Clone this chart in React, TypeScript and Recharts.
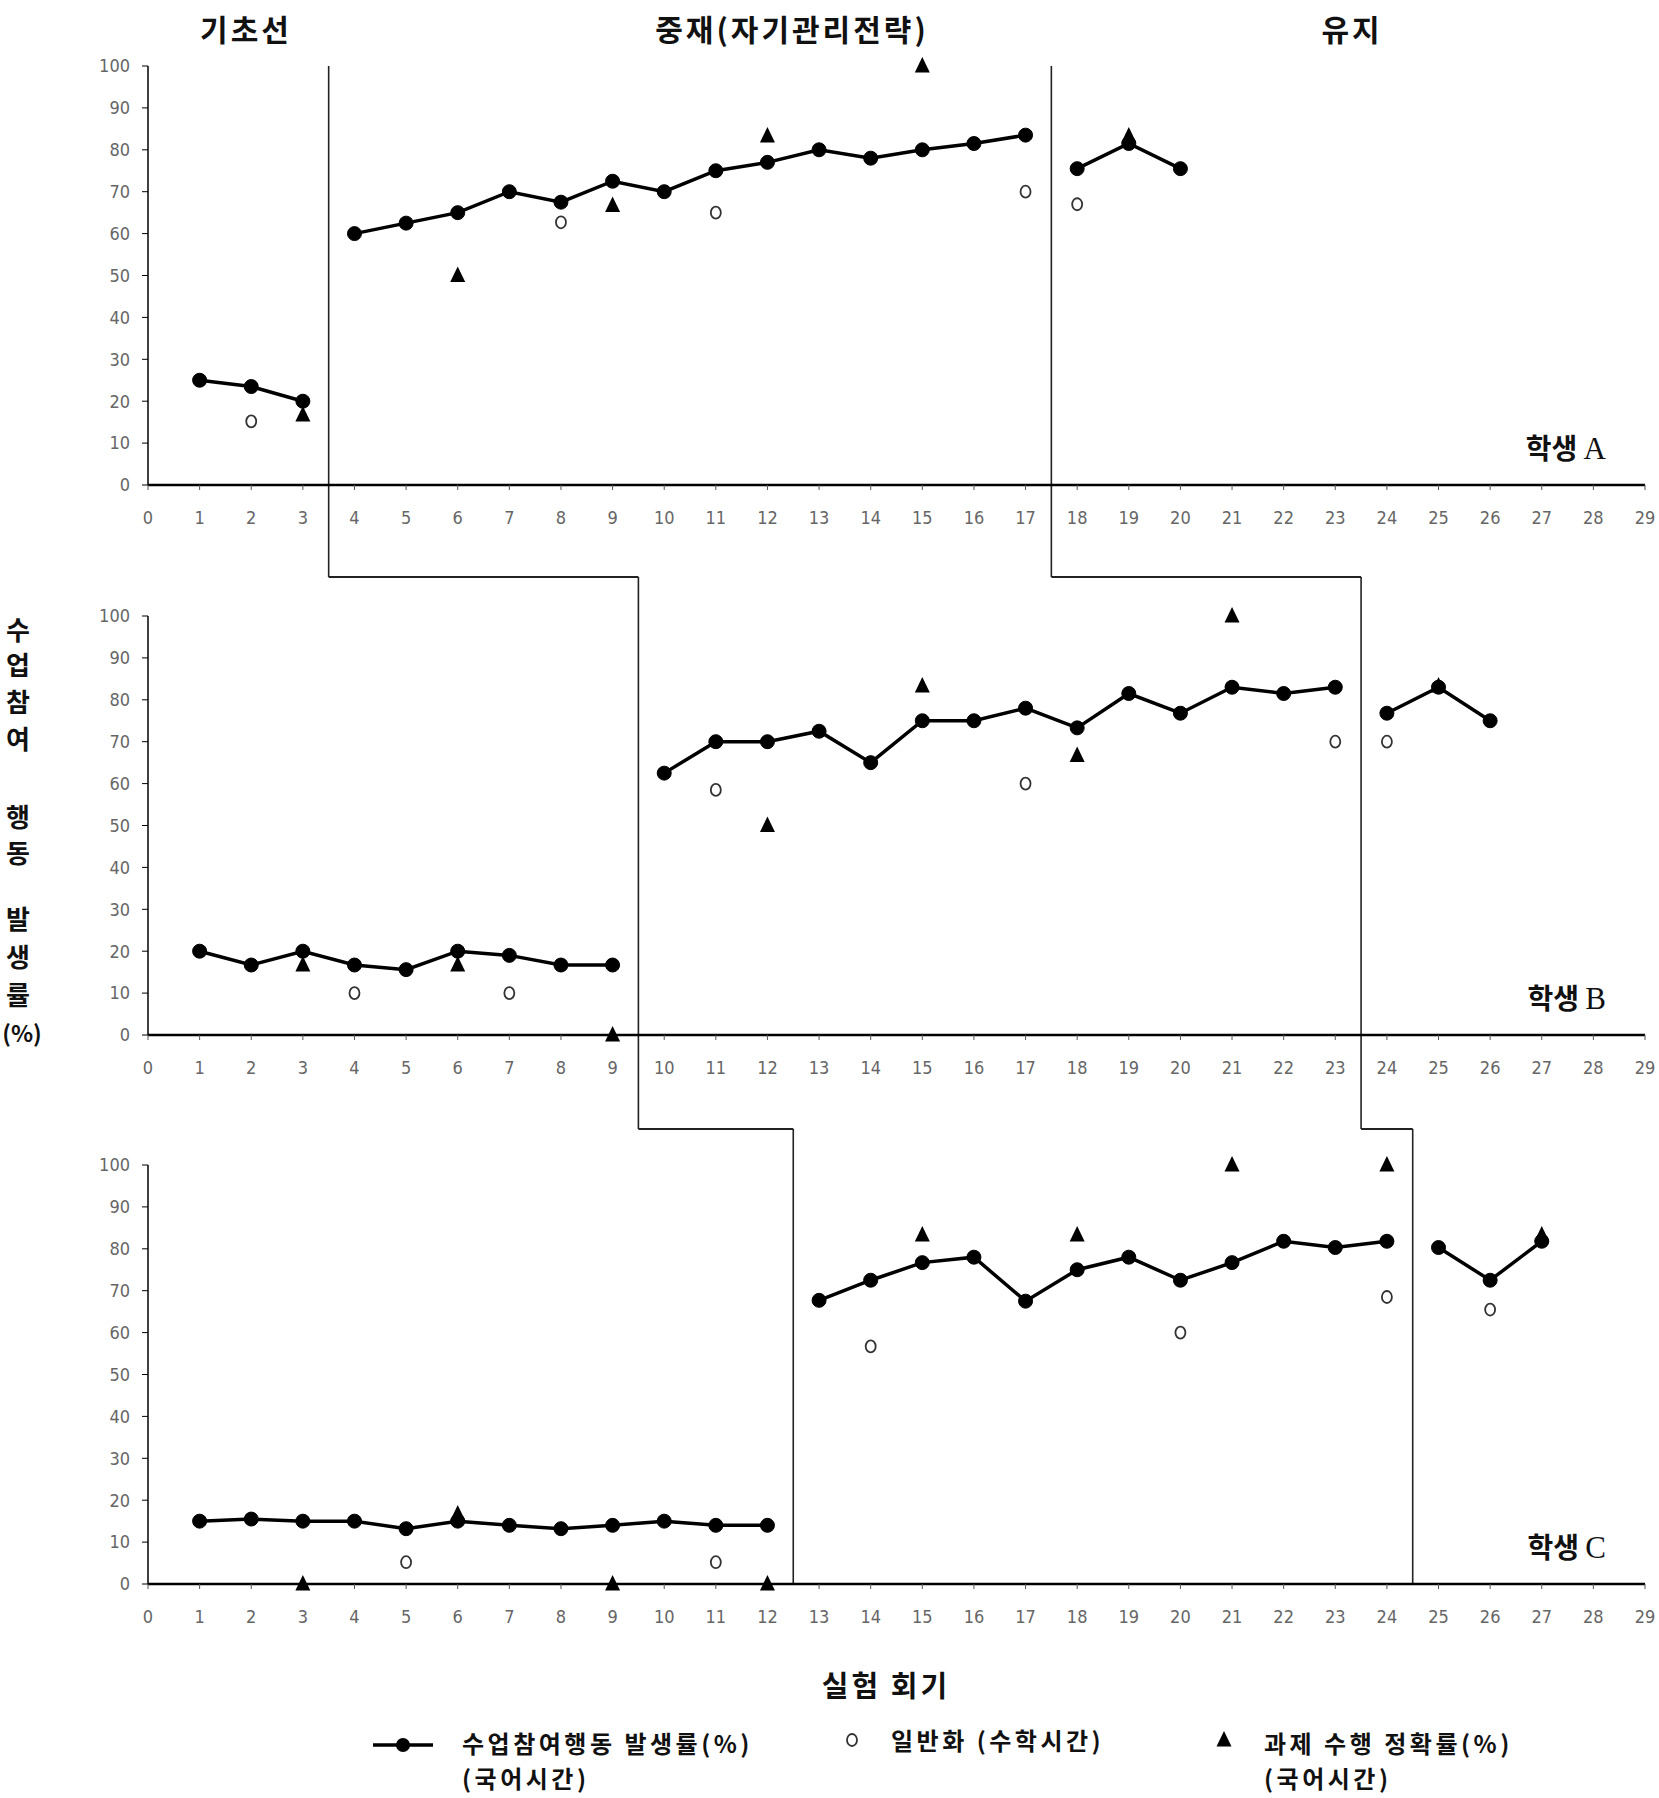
import React from 'react';
import { ComposedChart, Line, Scatter, XAxis, YAxis, ReferenceLine } from 'recharts';

type Pt = [number, number];

// 회기(x) 눈금과 백분율(y) 눈금
const sessionTicks = [0, 1, 2, 3, 4, 5, 6, 7, 8, 9, 10, 11, 12, 13, 14, 15, 16, 17, 18, 19, 20, 21, 22, 23, 24, 25, 26, 27, 28, 29];
const percentTicks = [0, 10, 20, 30, 40, 50, 60, 70, 80, 90, 100];

const phaseTitles = ['기초선', '중재(자기관리전략)', '유지'];
const studentNames = ['A', 'B', 'C'];

// 학생 A  [회기, 값]
const aBaseline: Pt[] = [[1, 25], [2, 23.5], [3, 20]];
const aIntervention: Pt[] = [[4, 60], [5, 62.5], [6, 65], [7, 70], [8, 67.5], [9, 72.5], [10, 70], [11, 75], [12, 77], [13, 80], [14, 78], [15, 80], [16, 81.5], [17, 83.5]];
const aMaintenance: Pt[] = [[18, 75.5], [19, 81.5], [20, 75.5]];
const aGeneral: Pt[] = [[2, 15.2], [8, 62.7], [11, 65], [17, 70], [18, 67]];
const aTask: Pt[] = [[3, 16.7], [6, 50], [9, 66.7], [12, 83.3], [15, 100], [19, 83.3]];
const aBreaks = [3.5, 17.5];

// 학생 B
const bBaseline: Pt[] = [[1, 20], [2, 16.7], [3, 20], [4, 16.7], [5, 15.6], [6, 20], [7, 19], [8, 16.7], [9, 16.7]];
const bIntervention: Pt[] = [[10, 62.5], [11, 70], [12, 70], [13, 72.5], [14, 65], [15, 75], [16, 75], [17, 78], [18, 73.3], [19, 81.5], [20, 76.8], [21, 83], [22, 81.5], [23, 83]];
const bMaintenance: Pt[] = [[24, 76.8], [25, 83], [26, 75]];
const bGeneral: Pt[] = [[4, 10], [7, 10], [11, 58.5], [17, 60], [23, 70], [24, 70]];
const bTask: Pt[] = [[3, 16.7], [6, 16.7], [9, 0], [12, 50], [15, 83.3], [18, 66.7], [21, 100], [25, 83.3]];
const bBreaks = [9.5, 23.5];

// 학생 C
const cBaseline: Pt[] = [[1, 15], [2, 15.5], [3, 15], [4, 15], [5, 13.2], [6, 15], [7, 14], [8, 13.2], [9, 14], [10, 15], [11, 14], [12, 14]];
const cIntervention: Pt[] = [[13, 67.7], [14, 72.5], [15, 76.7], [16, 78], [17, 67.5], [18, 75], [19, 78], [20, 72.5], [21, 76.7], [22, 81.8], [23, 80.3], [24, 81.8]];
const cMaintenance: Pt[] = [[25, 80.3], [26, 72.5], [27, 81.8]];
const cGeneral: Pt[] = [[5, 5.2], [11, 5.2], [14, 56.7], [20, 60], [24, 68.5], [26, 65.5]];
const cTask: Pt[] = [[3, 0], [6, 16.7], [9, 0], [12, 0], [15, 83.3], [18, 83.3], [21, 100], [24, 100], [27, 83.3]];
const cBreaks = [12.5, 24.5];

// 레이아웃
const W = 1659;
const PLOT_LEFT = 148;
const PLOT_RIGHT = 1645;
const PLOT_H = 419;
const Y_AXIS_W = 60;
const PAD_TOP = 60;
const X_AXIS_H = 44;
const PAD_BOTTOM = 76;
const CHART_H = PAD_TOP + PLOT_H + X_AXIS_H + PAD_BOTTOM;
const panelTops = [66, 616, 1165];
const stepYs = [577, 1129];

const KFONT = "'Noto Sans CJK KR', 'Noto Sans', sans-serif";
const TICK_FONT = "'Liberation Sans Narrow', 'DejaVu Sans Condensed', 'Noto Sans', sans-serif";

const toRows = (pts: Pt[]) => pts.map(([x, y]) => ({ x, y }));

const OpenCircle = (props: any) => (
  <ellipse cx={props.cx} cy={props.cy} rx={5} ry={6} fill="#fff" stroke="#333" strokeWidth={1.8} />
);

const Triangle = (props: any) => {
  const { cx, cy } = props;
  return <polygon points={`${cx},${cy - 9} ${cx - 7.5},${cy + 6.5} ${cx + 7.5},${cy + 6.5}`} fill="#000" />;
};

interface PanelProps {
  plotTop: number;
  segments: Pt[][];
  general: Pt[];
  task: Pt[];
  breaks: number[];
  nextBreaks?: number[];
  stepAbove?: number;
  stepBelow?: number;
}

function Panel({ plotTop, segments, general, task, breaks, nextBreaks, stepAbove, stepBelow }: PanelProps) {
  // 페이지 y 좌표를 이 패널의 값 단위로 바꿈 (단계선 연결용)
  const toVal = (pageY: number) => 100 - ((pageY - plotTop) * 100) / PLOT_H;
  const yStart = stepAbove == null ? 100 : toVal(stepAbove);
  const yEnd = stepBelow == null ? 0 : toVal(stepBelow);

  return (
    <div style={{ position: 'absolute', left: 0, top: plotTop - PAD_TOP }}>
      <ComposedChart
        width={W}
        height={CHART_H}
        margin={{ top: PAD_TOP, right: W - PLOT_RIGHT, bottom: PAD_BOTTOM, left: PLOT_LEFT - Y_AXIS_W }}
      >
        <XAxis
          type="number"
          dataKey="x"
          domain={[0, 29]}
          ticks={sessionTicks}
          interval={0}
          height={X_AXIS_H}
          axisLine={{ stroke: '#000', strokeWidth: 2.5 }}
          tickLine={{ stroke: '#555' }}
          tickSize={5}
          tickMargin={21}
          tick={{ fill: '#666', fontSize: 18, fontFamily: TICK_FONT }}
        />
        <YAxis
          type="number"
          dataKey="y"
          domain={[0, 100]}
          ticks={percentTicks}
          interval={0}
          width={Y_AXIS_W}
          axisLine={{ stroke: '#000', strokeWidth: 1.5 }}
          tickLine={{ stroke: '#000' }}
          tickSize={6}
          tickMargin={12}
          tick={{ fill: '#666', fontSize: 18, fontFamily: TICK_FONT }}
        />
        {breaks.map((b, i) => (
          <ReferenceLine
            key={'v' + i}
            segment={[{ x: b, y: yStart }, { x: b, y: yEnd }]}
            ifOverflow="visible"
            stroke="#222"
            strokeWidth={1.6}
          />
        ))}
        {nextBreaks &&
          breaks.map((b, i) => (
            <ReferenceLine
              key={'h' + i}
              segment={[{ x: b, y: yEnd }, { x: nextBreaks[i], y: yEnd }]}
              ifOverflow="visible"
              stroke="#222"
              strokeWidth={2}
            />
          ))}
        {segments.map((seg, i) => (
          <Line
            key={'l' + i}
            data={toRows(seg)}
            dataKey="y"
            type="linear"
            stroke="#000"
            strokeWidth={3.5}
            dot={{ r: 7, fill: '#000', stroke: '#000', strokeWidth: 1 }}
            activeDot={false}
            isAnimationActive={false}
          />
        ))}
        <Scatter data={toRows(general)} dataKey="y" shape={OpenCircle} isAnimationActive={false} />
        <Scatter data={toRows(task)} dataKey="y" shape={Triangle} isAnimationActive={false} />
      </ComposedChart>
    </div>
  );
}

const ylabelChars: [string, number][] = [
  ['수', 628], ['업', 663], ['참', 700], ['여', 737],
  ['행', 815], ['동', 851],
  ['발', 917], ['생', 955], ['률', 993], ['(%)', 1032],
];

const legendText: React.CSSProperties = {
  position: 'absolute', fontFamily: KFONT, fontWeight: 700, fontSize: 24, lineHeight: '24px',
  letterSpacing: 3.5, color: '#111', whiteSpace: 'nowrap',
};

export default function App() {
  const titleStyle: React.CSSProperties = {
    position: 'absolute', top: 6, fontFamily: KFONT, fontWeight: 700, fontSize: 30, letterSpacing: 3,
    transform: 'translateX(-50%)', whiteSpace: 'nowrap', color: '#111',
  };
  const panels = [
    { segments: [aBaseline, aIntervention, aMaintenance], general: aGeneral, task: aTask, breaks: aBreaks },
    { segments: [bBaseline, bIntervention, bMaintenance], general: bGeneral, task: bTask, breaks: bBreaks },
    { segments: [cBaseline, cIntervention, cMaintenance], general: cGeneral, task: cTask, breaks: cBreaks },
  ];

  return (
    <div style={{ position: 'absolute', left: 0, top: 0, width: W, height: 1798, background: '#fff', overflow: 'hidden' }}>
      <div style={{ ...titleStyle, left: 246 }}>{phaseTitles[0]}</div>
      <div style={{ ...titleStyle, left: 792 }}>{phaseTitles[1]}</div>
      <div style={{ ...titleStyle, left: 1352 }}>{phaseTitles[2]}</div>

      {panels.map((p, i) => (
        <Panel
          key={i}
          plotTop={panelTops[i]}
          segments={p.segments}
          general={p.general}
          task={p.task}
          breaks={p.breaks}
          nextBreaks={i < 2 ? panels[i + 1].breaks : undefined}
          stepAbove={i > 0 ? stepYs[i - 1] : undefined}
          stepBelow={i < 2 ? stepYs[i] : undefined}
        />
      ))}

      {studentNames.map((n, i) => (
        <div
          key={n}
          style={{
            position: 'absolute', right: W - 1606, top: panelTops[i] + PLOT_H - 58,
            fontSize: 28, fontWeight: 700, color: '#111', whiteSpace: 'nowrap',
          }}
        >
          <span style={{ fontFamily: KFONT }}>학생 </span>
          <span style={{ fontFamily: "'Liberation Serif', serif", fontWeight: 400, fontSize: 31 }}>{n}</span>
        </div>
      ))}

      {ylabelChars.map(([ch, y]) => (
        <div
          key={ch}
          style={{
            position: 'absolute', left: ch === '(%)' ? 22 : 18, top: y, transform: 'translate(-50%, -50%)',
            fontFamily: KFONT, fontWeight: 700, fontSize: ch === '(%)' ? 23 : 26, color: '#111', whiteSpace: 'nowrap',
          }}
        >
          {ch}
        </div>
      ))}

      <div
        style={{
          position: 'absolute', left: 886, top: 1684, transform: 'translate(-50%, -50%)',
          fontFamily: KFONT, fontWeight: 700, fontSize: 29, letterSpacing: 3, color: '#111', whiteSpace: 'nowrap',
        }}
      >
        실험 회기
      </div>

      {/* 범례 */}
      <svg style={{ position: 'absolute', left: 0, top: 1720 }} width={W} height={60}>
        <line x1={373} y1={25} x2={433} y2={25} stroke="#000" strokeWidth={3.5} />
        <circle cx={403} cy={25} r={7} fill="#000" />
        <ellipse cx={852} cy={20} rx={5} ry={6} fill="#fff" stroke="#333" strokeWidth={1.8} />
        <polygon points="1224,11 1216.5,26.5 1231.5,26.5" fill="#000" />
      </svg>
      <div style={{ ...legendText, left: 462, top: 1731 }}>수업참여행동 발생률(%)</div>
      <div style={{ ...legendText, left: 462, top: 1766 }}>(국어시간)</div>
      <div style={{ ...legendText, left: 891, top: 1728 }}>일반화 (수학시간)</div>
      <div style={{ ...legendText, left: 1264, top: 1731 }}>과제 수행 정확률(%)</div>
      <div style={{ ...legendText, left: 1264, top: 1766 }}>(국어시간)</div>
    </div>
  );
}
